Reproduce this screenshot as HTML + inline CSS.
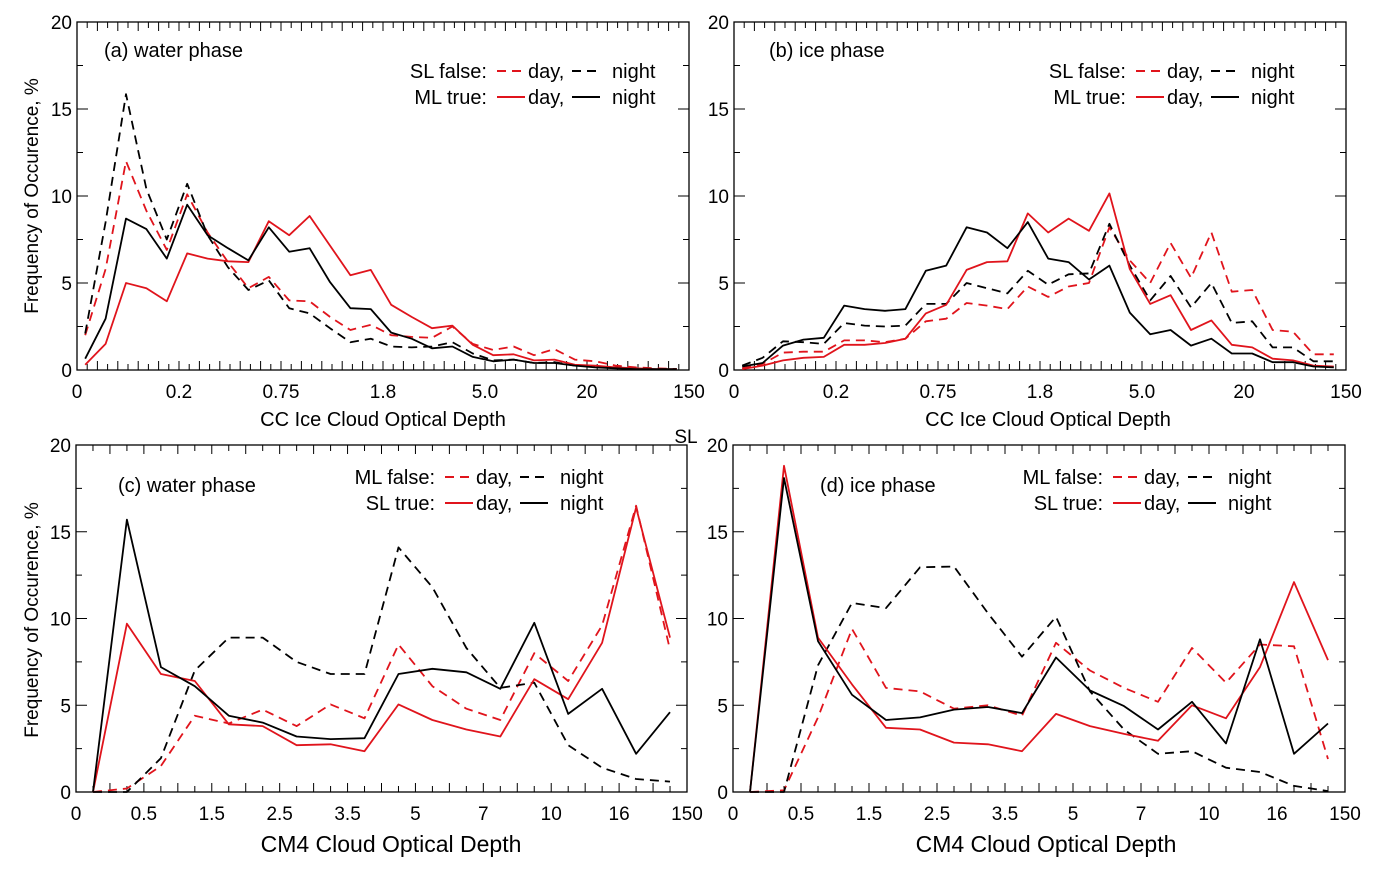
<!DOCTYPE html>
<html><head><meta charset="utf-8">
<style>
html,body{margin:0;padding:0;background:#fff;}
svg{display:block;font-family:"Liberation Sans",Arial,sans-serif;}
</style></head>
<body>
<svg id="fig" width="1373" height="873" viewBox="0 0 1373 873" xmlns="http://www.w3.org/2000/svg"></svg>
<script>
// ---------- DATA ----------
const ccTickLabels = ["0","0.2","0.75","1.8","5.0","20","150"];
const cmTickLabels = ["0","0.5","1.5","2.5","3.5","5","7","10","16","150"];
const yTickLabels = ["0","5","10","15","20"];

// (a) water phase, 30 bins
const aSlDay   = [2.0,5.8,12.0,9.15,6.9,10.1,7.9,6.2,4.7,5.35,4.0,3.95,3.05,2.3,2.6,2.0,1.9,1.85,2.5,1.5,1.15,1.35,0.85,1.2,0.6,0.5,0.25,0.15,0.1,0.05];
const aSlNight = [2.1,8.5,15.85,10.4,7.5,10.7,7.75,5.9,4.6,5.15,3.55,3.25,2.4,1.6,1.8,1.35,1.3,1.35,1.6,0.95,0.55,0.6,0.4,0.45,0.25,0.2,0.15,0.1,0.05,0.05];
const aMlDay   = [0.3,1.5,5.0,4.7,3.95,6.7,6.4,6.25,6.2,8.55,7.75,8.85,7.15,5.45,5.75,3.75,3.05,2.4,2.55,1.45,0.85,0.9,0.55,0.6,0.3,0.25,0.15,0.1,0.05,0.05];
const aMlNight = [0.65,2.95,8.7,8.1,6.4,9.5,7.75,7.0,6.3,8.2,6.8,7.0,5.05,3.55,3.5,2.15,1.8,1.25,1.35,0.75,0.5,0.6,0.4,0.4,0.25,0.15,0.1,0.05,0.05,0.05];

// (b) ice phase, 30 bins
const bSlDay   = [0.1,0.35,1.0,1.05,1.05,1.7,1.7,1.6,1.8,2.8,2.95,3.85,3.7,3.5,4.8,4.2,4.8,5.0,8.2,6.3,5.0,7.3,5.3,7.9,4.5,4.6,2.3,2.2,0.9,0.9];
const bSlNight = [0.25,0.7,1.65,1.6,1.5,2.7,2.55,2.5,2.55,3.8,3.8,5.0,4.7,4.4,5.7,4.9,5.5,5.55,8.4,6.0,4.0,5.4,3.6,5.0,2.7,2.8,1.3,1.3,0.5,0.5];
const bMlDay   = [0.05,0.25,0.55,0.7,0.75,1.45,1.45,1.55,1.8,3.25,3.75,5.75,6.2,6.25,9.0,7.9,8.7,8.0,10.15,5.8,3.8,4.3,2.3,2.85,1.45,1.3,0.65,0.55,0.25,0.2];
const bMlNight = [0.2,0.4,1.4,1.75,1.85,3.7,3.5,3.4,3.5,5.7,6.0,8.2,7.9,7.0,8.5,6.4,6.2,5.2,6.0,3.3,2.05,2.3,1.4,1.8,0.95,0.95,0.45,0.45,0.2,0.15];

// (c) water phase, 18 bins
const cMlDay   = [0,0.2,1.5,4.4,3.95,4.75,3.8,5.05,4.25,8.5,6.1,4.8,4.15,8.0,6.4,9.6,16.5,8.2];
const cMlNight = [0,0,1.95,7.0,8.9,8.9,7.5,6.8,6.8,14.1,11.8,8.3,6.0,6.3,2.7,1.4,0.75,0.6];
const cSlDay   = [0,9.7,6.8,6.4,3.9,3.8,2.7,2.75,2.35,5.05,4.15,3.6,3.2,6.5,5.35,8.6,16.4,8.9];
const cSlNight = [0,15.7,7.2,6.1,4.4,4.0,3.2,3.05,3.1,6.8,7.1,6.9,5.95,9.75,4.5,5.95,2.2,4.6];

// (d) ice phase, 18 bins
const dMlDay   = [0,0.1,4.3,9.4,6.0,5.8,4.8,5.0,4.4,8.6,7.0,6.0,5.2,8.3,6.3,8.5,8.4,1.9];
const dMlNight = [0,0,7.3,10.9,10.6,12.95,13.0,10.3,7.8,10.1,5.8,3.6,2.2,2.35,1.4,1.15,0.35,0.05];
const dSlDay   = [0,18.8,8.9,6.2,3.7,3.6,2.85,2.75,2.35,4.5,3.8,3.35,2.95,5.0,4.25,7.2,12.1,7.6];
const dSlNight = [0,18.1,8.7,5.6,4.15,4.3,4.75,4.9,4.55,7.75,5.85,4.95,3.6,5.2,2.8,8.8,2.2,3.95];

// ---------- DRAWING ----------
const NS = "http://www.w3.org/2000/svg";
const svg = document.getElementById("fig");
function mk(tag, attrs, parent){
  const e = document.createElementNS(NS, tag);
  for (const k in attrs) e.setAttribute(k, attrs[k]);
  (parent || svg).appendChild(e);
  return e;
}
function txt(s, x, y, size, anchor, parent){
  const t = mk("text", {x:x, y:y, "font-size":size, "text-anchor":anchor||"middle", fill:"#000"}, parent);
  t.textContent = s;
  return t;
}

function panel(o){
  const g = mk("g", {});
  
  
  const L=o.x0, R=o.x1, T=o.y0, B=o.y1, W=R-L, H=B-T;
  const xs = v => L + v / o.units * W;
  const ys = v => B - v / 20 * H;
  const fr = mk("rect", {x:L, y:T, width:W, height:H, fill:"none", stroke:"#000", "stroke-width":1.3}, g);
  
  
  let d = "";
  for (let u = 0; u <= o.units*2; u++){
    const x = xs(u/2);
    const len = (u % 2 === 0) ? 9 : 6;
    d += `M${x},${B}v${-len}M${x},${T}v${len}`;
  }
  for (let v = 0; v <= 20; v += 2.5){
    const y = ys(v);
    const len = (v % 5 === 0) ? 11 : 6;
    d += `M${L},${y}h${len}M${R},${y}h${-len}`;
  }
  const tk = mk("path", {d:d, stroke:"#000", "stroke-width":1, fill:"none"}, g);
  
  
  yTickLabels.forEach((s, i) => {
    const t = txt(s, L - 5, ys(+s) + 7, 19, "end", g);
    
    
  });
  o.labels.forEach((s, i) => {
    const t = txt(s, xs(i * o.labelStep), B + 28, 19, "middle", g);
    
    
  });
  o.series.forEach(sr => {
    const pts = sr.data.map((v, i) => `${xs(i + o.off).toFixed(1)},${ys(v).toFixed(1)}`).join(" ");
    const pl = mk("polyline", {points:pts, fill:"none", stroke:sr.color, "stroke-width":1.8,
      "stroke-dasharray": sr.dash ? "9,6" : "none", "stroke-linejoin":"round"}, g);
    
    
  });
  const pt = txt(o.title, o.titleX, o.titleY, 20, "start", g);
  
  
  const lg = mk("g", {}, g);
  
  
  const lx = o.legX, rows = [[o.leg1, true, o.legY], [o.leg2, false, o.legY + 26]];
  rows.forEach(([lab, dash, y]) => {
    const t1 = txt(lab, lx, y, 20, "end", lg);
    
    
    const l1 = mk("line", {x1:lx+10, x2:lx+38, y1:y-7, y2:y-7, stroke:"#e0141c", "stroke-width":2, "stroke-dasharray": dash ? "9,6" : "none"}, lg);
    
    
    const t2 = txt("day,", lx+41, y, 20, "start", lg);
    
    
    const l2 = mk("line", {x1:lx+85, x2:lx+113, y1:y-7, y2:y-7, stroke:"#000", "stroke-width":2, "stroke-dasharray": dash ? "9,6" : "none"}, lg);
    
    
    const t3 = txt("night", lx+125, y, 20, "start", lg);
    
    
  });
}

const RED = "#e0141c", BLK = "#000";
panel({name:"panel-a-water-phase", x0:77, x1:689, y0:22, y1:370, units:30, off:0.4, labels:ccTickLabels, labelStep:5,
  title:"(a) water phase", titleX:104, titleY:57, legX:487, legY:78, leg1:"SL false:", leg2:"ML true:",
  series:[{name:"sl-false-day",data:aSlDay,color:RED,dash:true},{name:"sl-false-night",data:aSlNight,color:BLK,dash:true},
          {name:"ml-true-day",data:aMlDay,color:RED,dash:false},{name:"ml-true-night",data:aMlNight,color:BLK,dash:false}]});
panel({name:"panel-b-ice-phase", x0:734, x1:1346, y0:22, y1:370, units:30, off:0.4, labels:ccTickLabels, labelStep:5,
  title:"(b) ice phase", titleX:769, titleY:57, legX:1126, legY:78, leg1:"SL false:", leg2:"ML true:",
  series:[{name:"sl-false-day",data:bSlDay,color:RED,dash:true},{name:"sl-false-night",data:bSlNight,color:BLK,dash:true},
          {name:"ml-true-day",data:bMlDay,color:RED,dash:false},{name:"ml-true-night",data:bMlNight,color:BLK,dash:false}]});
panel({name:"panel-c-water-phase", x0:76, x1:687, y0:445, y1:792, units:18, off:0.5, labels:cmTickLabels, labelStep:2,
  title:"(c) water phase", titleX:118, titleY:492, legX:435, legY:484, leg1:"ML false:", leg2:"SL  true:",
  series:[{name:"ml-false-day",data:cMlDay,color:RED,dash:true},{name:"ml-false-night",data:cMlNight,color:BLK,dash:true},
          {name:"sl-true-day",data:cSlDay,color:RED,dash:false},{name:"sl-true-night",data:cSlNight,color:BLK,dash:false}]});
panel({name:"panel-d-ice-phase", x0:733, x1:1345, y0:445, y1:792, units:18, off:0.5, labels:cmTickLabels, labelStep:2,
  title:"(d) ice phase", titleX:820, titleY:492, legX:1103, legY:484, leg1:"ML false:", leg2:"SL  true:",
  series:[{name:"ml-false-day",data:dMlDay,color:RED,dash:true},{name:"ml-false-night",data:dMlNight,color:BLK,dash:true},
          {name:"sl-true-day",data:dSlDay,color:RED,dash:false},{name:"sl-true-night",data:dSlNight,color:BLK,dash:false}]});

function rotTitle(s, x, y, name){
  const t = txt(s, x, y, 19, "middle");
  t.setAttribute("transform", `rotate(-90 ${x} ${y})`);
  
  
}
rotTitle("Frequency of Occurence, %", 38, 196, "y-axis-title-top");
rotTitle("Frequency of Occurence, %", 38, 620, "y-axis-title-bottom");
let t;
t = txt("CC Ice Cloud Optical Depth", 383, 426, 20);  
t = txt("CC Ice Cloud Optical Depth", 1048, 426, 20);  
t = txt("CM4 Cloud Optical Depth", 391, 852, 23);  
t = txt("CM4 Cloud Optical Depth", 1046, 852, 23);  
t = txt("SL", 686, 443, 19);  
</script>
</body></html>
